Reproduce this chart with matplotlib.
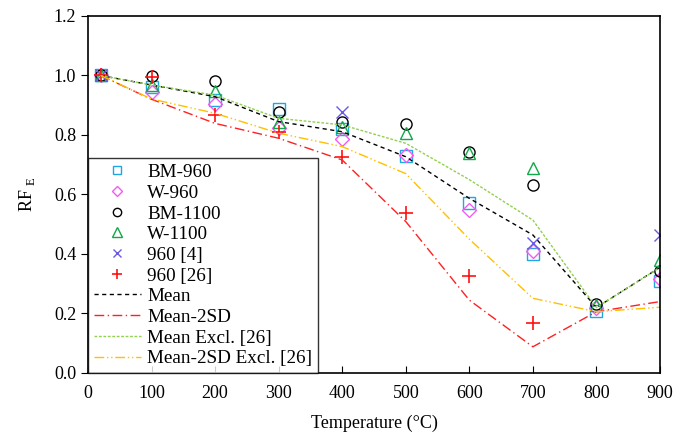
import numpy as np
import matplotlib
matplotlib.use("Agg")
import matplotlib.pyplot as plt

plt.rcParams['font.family'] = ['Liberation Serif', 'DejaVu Serif']
plt.rcParams['mathtext.fontset'] = 'custom'
plt.rcParams['mathtext.rm'] = 'Liberation Serif'

# Temperatures (°C)
temps = [20, 100, 200, 300, 400, 500, 600, 700, 800, 900]

# Test results (RF_E)
bm_960 = [1.0, 0.96, 0.918, 0.888, 0.82, 0.728, 0.57, 0.40, 0.209, 0.31]
w_960 = [1.0, 0.946, 0.904, 0.825, 0.785, 0.733, 0.548, 0.41, 0.217, 0.316]
bm_1100 = [1.0, 0.998, 0.98, 0.876, 0.843, 0.836, 0.744, 0.632, 0.232, 0.344]
w_1100 = [1.0, 0.968, 0.949, 0.845, 0.826, 0.806, 0.738, 0.688, 0.23, 0.38]

temps_ref4 = [20, 400, 700, 900]
ref4_960 = [1.0, 0.876, 0.436, 0.464]

temps_ref26 = [20, 100, 200, 300, 400, 500, 600, 700]
ref26_960 = [1.0, 0.994, 0.867, 0.809, 0.727, 0.539, 0.327, 0.169]

# Fitted curves
mean_all = [1.0, 0.968, 0.929, 0.845, 0.811, 0.727, 0.587, 0.464, 0.22, 0.355]
mean_2sd = [1.0, 0.92, 0.839, 0.789, 0.716, 0.509, 0.245, 0.088, 0.206, 0.24]
mean_excl = [1.0, 0.968, 0.934, 0.856, 0.834, 0.772, 0.65, 0.514, 0.22, 0.355]
mean_2sd_excl = [1.0, 0.921, 0.873, 0.806, 0.761, 0.67, 0.45, 0.251, 0.206, 0.221]

fig = plt.figure(figsize=(6.83, 4.37), dpi=100)
ax = fig.add_axes([0.1288, 0.1465, 0.8375, 0.8169])

ms = 8
ax.plot(temps, bm_960, linestyle='none', marker='s', ms=ms, mfc='none', mec='#1ea7e1', mew=1.0, label='BM-960')
ax.plot(temps, w_960, linestyle='none', marker='D', ms=ms - 1, mfc='none', mec='#f25cf2', mew=1.0, label='W-960')
ax.plot(temps, bm_1100, linestyle='none', marker='o', ms=ms, mfc='none', mec='black', mew=1.0, label='BM-1100')
ax.plot(temps, w_1100, linestyle='none', marker='^', ms=ms + 1, mfc='none', mec='#10a84a', mew=1.0, label='W-1100')
ax.plot(temps_ref4, ref4_960, linestyle='none', marker='x', ms=ms, mec='#6a5ae0', mew=1.0, label='960 [4]')
ax.plot(temps_ref26, ref26_960, linestyle='none', marker='+', ms=ms + 2, mec='#ff1010', mew=1.2, label='960 [26]')

ax.plot(temps, mean_all, color='black', ls=(0, (3, 2.5)), lw=1.0, label='Mean')
ax.plot(temps, mean_2sd, color='#ff2020', ls=(0, (7, 2.5, 1, 2.5)), lw=1.0, label='Mean-2SD')
ax.plot(temps, mean_excl, color='#92d050', ls=(0, (2, 1.2)), lw=1.0, label='Mean Excl. [26]')
ax.plot(temps, mean_2sd_excl, color='#ffc000', ls=(0, (7, 2, 1, 2, 1, 2)), lw=1.0, label='Mean-2SD Excl. [26]')

ax.set_xlim(0, 900)
ax.set_ylim(0, 1.2)
ax.set_xticks(np.arange(0, 901, 100))
ax.set_yticks(np.arange(0, 1.21, 0.2))
ax.set_yticklabels([f'{v:.1f}' for v in np.arange(0, 1.21, 0.2)])
ax.tick_params(axis='x', direction='in', length=5, labelsize=13, pad=9)
ax.tick_params(axis='y', direction='out', length=5, labelsize=13)
for s in ax.spines.values():
    s.set_linewidth(1.2)

ax.set_xlabel('Temperature (°C)', fontsize=13, labelpad=9)
ax.set_ylabel(r'RF $_{\mathrm{E}}$', fontsize=13, labelpad=12)

leg = ax.legend(loc='lower left', bbox_to_anchor=(0, 0), borderaxespad=0, fontsize=13.8,
                frameon=True, fancybox=False, edgecolor='black', handlelength=2.45,
                markerscale=0.75, labelspacing=0.17, handletextpad=0.35, borderpad=0.3)
leg.get_frame().set_linewidth(1.0)

fig.savefig('out.png', dpi=100)
